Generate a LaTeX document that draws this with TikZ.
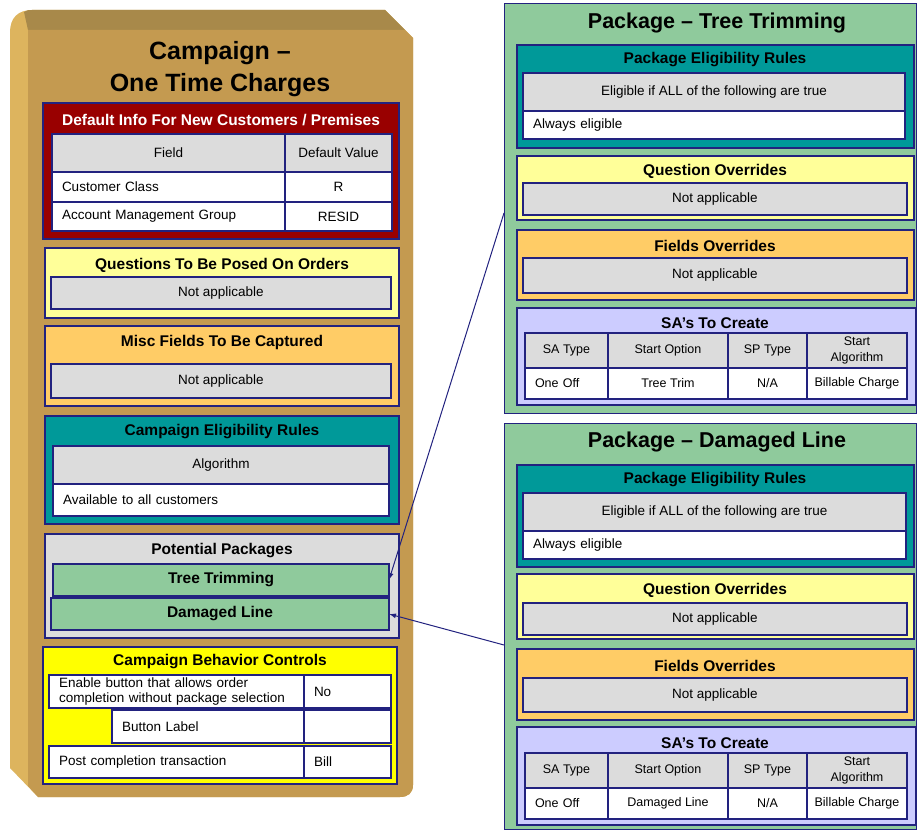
\documentclass[tikz,border=0pt]{standalone}
\usepackage{fontspec}
\setmainfont{Liberation Sans}
\usetikzlibrary{arrows.meta,positioning}
\definecolor{navy}{HTML}{22227F}
\definecolor{tanface}{HTML}{C49A50}
\definecolor{tanside}{HTML}{DDB45E}
\definecolor{tantop}{HTML}{A8894A}
\definecolor{darkred}{HTML}{990000}
\definecolor{paleyellow}{HTML}{FFFF99}
\definecolor{paleorange}{HTML}{FFCC66}
\definecolor{tealbox}{HTML}{009999}
\definecolor{cellgray}{HTML}{DCDCDC}
\definecolor{pkggreen}{HTML}{8FCA9C}
\definecolor{brightyellow}{HTML}{FFFF00}
\definecolor{lavender}{HTML}{CCCCFF}

\begin{document}
\begin{tikzpicture}[x=1pt, y=-1pt, font=\fontsize{13.5}{16}\selectfont,
  panel/.style={draw=navy, line width=1.3pt, inner sep=0pt, outer sep=0pt},
  cell/.style={draw=navy, line width=1.1pt, inner sep=0pt, outer sep=0pt, fill=white, align=center},
  gcell/.style={cell, fill=cellgray},
  lcell/.style={cell, align=left, inner xsep=10pt},
  hd/.style={font=\bfseries\fontsize{15.5}{18}\selectfont},
  ttl/.style={font=\bfseries\fontsize{21.5}{25}\selectfont},
  sat/.style={font=\fontsize{12.5}{16}\selectfont},
  conn/.style={-{Latex[length=7pt, width=5pt]}, navy, line width=1pt}]
\useasboundingbox (0,0) rectangle (919,832);
% campaign block
\fill[tanside] (10,768) -- (10,32) .. controls (10,18) and (18,10) .. (32,10) -- (385,10) -- (413,38) -- (413,785) .. controls (413,793) and (408,797) .. (400,797) -- (38,797) -- cycle;
\fill[tantop] (24,12) .. controls (27,10) and (29,10) .. (32,10) -- (385,10) -- (405,30) -- (28,30) -- cycle;
\fill[tanface] (28,30) -- (405,30) -- (413,38) -- (413,785) .. controls (413,793) and (408,797) .. (400,797) -- (38,797) -- (28,786) -- cycle;
\node[font=\bfseries\fontsize{25}{32}\selectfont, align=center] (camp) at (220,69) {Campaign --\\One Time Charges};

\node[panel, fill=darkred, minimum width=356pt, minimum height=136pt] (defbox) at (221,171) {};
\node[hd, text=white] (defhd) at (221,120) {Default Info For New Customers / Premises};
\node[gcell, minimum width=233pt, minimum height=38pt] (fld) at (168.5,153) {Field};
\node[gcell, minimum width=107pt, minimum height=38pt] (dval) at (338.5,153) {Default Value};
\node[lcell, text width=213pt, minimum height=30pt] (cclass) at (168.5,187) {Customer Class};
\node[cell, minimum width=107pt, minimum height=30pt] (cclassv) at (338.5,187) {R};
\node[lcell, text width=213pt, minimum height=29pt] (amg) at (168.5,216.5) {Account Management Group};
\node[cell, minimum width=107pt, minimum height=29pt] (amgv) at (338.5,216.5) {RESID};

\node[panel, fill=paleyellow, minimum width=354pt, minimum height=70pt] (quest) at (222,283) {};
\node[hd] (questhd) at (222,265) {Questions To Be Posed On Orders};
\node[gcell, minimum width=340pt, minimum height=32pt] (questna) at (221,293) {Not applicable};

\node[panel, fill=paleorange, minimum width=354pt, minimum height=80pt] (misc) at (222,366) {};
\node[hd] (mischd) at (222,342) {Misc Fields To Be Captured};
\node[gcell, minimum width=340pt, minimum height=34pt] (miscna) at (221,381) {Not applicable};

\node[panel, fill=tealbox, minimum width=354pt, minimum height=108pt] (celig) at (222,470) {};
\node[hd] (celighd) at (222,432) {Campaign Eligibility Rules};
\node[gcell, minimum width=336pt, minimum height=38pt] (algo) at (221,465) {Algorithm};
\node[lcell, text width=316pt, minimum height=32pt] (avail) at (221,500) {Available to all customers};

\node[panel, fill=cellgray, minimum width=354pt, minimum height=104pt] (pots) at (222,586) {};
\node[hd] (potshd) at (222,551) {Potential Packages};
\node[cell, hd, fill=pkggreen, minimum width=336pt, minimum height=32pt] (tt) at (221,580) {Tree Trimming};
\node[cell, hd, fill=pkggreen, minimum width=338pt, minimum height=32pt] (dl) at (220,614) {Damaged Line};

\node[panel, fill=brightyellow, minimum width=354pt, minimum height=137pt] (behav) at (220,715.5) {};
\node[hd] (behavhd) at (220,662) {Campaign Behavior Controls};
\node[lcell, text width=235pt, minimum height=33pt, font=\fontsize{13.5}{15}\selectfont] (enable) at (176.5,691.5) {Enable button that allows order\\completion without package selection};
\node[lcell, text width=67pt, minimum height=33pt] (enablev) at (347.5,691.5) {No};
\node[lcell, text width=172pt, minimum height=33pt] (blabel) at (208,726.5) {Button Label};
\node[cell, minimum width=87pt, minimum height=33pt] (blabelv) at (347.5,726.5) {};
\node[lcell, text width=235pt, minimum height=32pt] (post) at (176.5,762) {Post completion transaction};
\node[lcell, text width=67pt, minimum height=32pt] (postv) at (347.5,762) {Bill};

% package: tree trimming
\node[panel, line width=1pt, fill=pkggreen, minimum width=412pt, minimum height=409pt] (ttpkg) at (710,208.5) {};
\node[ttl] (tttl) at (717,23) {Package -- Tree Trimming};
\node[panel, fill=tealbox, minimum width=397pt, minimum height=103pt] (ttelig) at (715.5,96.5) {};
\node[hd] (tteligh) at (715,60) {Package Eligibility Rules};
\node[gcell, minimum width=382pt, minimum height=38pt] (ttall) at (714,92) {Eligible if ALL of the following are true};
\node[lcell, text width=362pt, minimum height=28pt] (ttalw) at (714,125) {Always eligible};
\node[panel, fill=paleyellow, minimum width=397pt, minimum height=64pt] (ttq) at (715.5,188) {};
\node[hd] (ttqh) at (715,171) {Question Overrides};
\node[gcell, minimum width=384pt, minimum height=32pt] (ttqna) at (715,199) {Not applicable};
\node[panel, fill=paleorange, minimum width=397pt, minimum height=70pt] (ttf) at (715.5,265) {};
\node[hd] (ttfh) at (715,246) {Fields Overrides};
\node[gcell, minimum width=384pt, minimum height=35pt] (ttfna) at (715,275.5) {Not applicable};
\node[panel, fill=lavender, minimum width=399pt, minimum height=97pt] (ttsa) at (716.5,356.5) {};
\node[hd] (ttsah) at (715,323) {SA's To Create};
\node[gcell, sat, minimum width=83pt, minimum height=35pt] (ttc1) at (566.5,350.5) {SA Type};
\node[gcell, sat, minimum width=120pt, minimum height=35pt] (ttc2) at (668,350.5) {Start Option};
\node[gcell, sat, minimum width=79pt, minimum height=35pt] (ttc3) at (767.5,350.5) {SP Type};
\node[gcell, sat, minimum width=100pt, minimum height=35pt] (ttc4) at (857,350.5) {Start\\Algorithm};
\node[lcell, sat, text width=63pt, minimum height=31pt] (ttd1) at (566.5,383.5) {One Off};
\node[cell, sat, minimum width=120pt, minimum height=31pt] (ttd2) at (668,383.5) {Tree Trim};
\node[cell, sat, minimum width=79pt, minimum height=31pt] (ttd3) at (767.5,383.5) {N/A};
\node[cell, sat, minimum width=100pt, minimum height=31pt] (ttd4) at (857,383.5) {Billable Charge};

% package: damaged line
\node[panel, line width=1pt, fill=pkggreen, minimum width=412pt, minimum height=406pt] (dlpkg) at (710,626) {};
\node[ttl] (dltl) at (717,442) {Package -- Damaged Line};
\node[panel, fill=tealbox, minimum width=397pt, minimum height=102pt] (dlelig) at (715.5,516) {};
\node[hd] (dleligh) at (715,480) {Package Eligibility Rules};
\node[gcell, minimum width=383pt, minimum height=38pt] (dlall) at (714.5,512) {Eligible if ALL of the following are true};
\node[lcell, text width=363pt, minimum height=28pt] (dlalw) at (714.5,545) {Always eligible};
\node[panel, fill=paleyellow, minimum width=397pt, minimum height=65pt] (dlq) at (715.5,606.5) {};
\node[hd] (dlqh) at (715,590) {Question Overrides};
\node[gcell, minimum width=384pt, minimum height=32pt] (dlqna) at (715,619) {Not applicable};
\node[panel, fill=paleorange, minimum width=397pt, minimum height=71pt] (dlf) at (715.5,684.5) {};
\node[hd] (dlfh) at (715,666) {Fields Overrides};
\node[gcell, minimum width=384pt, minimum height=34pt] (dlfna) at (715,695) {Not applicable};
\node[panel, fill=lavender, minimum width=399pt, minimum height=98pt] (dlsa) at (716.5,776) {};
\node[hd] (dlsah) at (715,743) {SA's To Create};
\node[gcell, sat, minimum width=83pt, minimum height=35pt] (dlc1) at (566.5,770.5) {SA Type};
\node[gcell, sat, minimum width=120pt, minimum height=35pt] (dlc2) at (668,770.5) {Start Option};
\node[gcell, sat, minimum width=79pt, minimum height=35pt] (dlc3) at (767.5,770.5) {SP Type};
\node[gcell, sat, minimum width=100pt, minimum height=35pt] (dlc4) at (857,770.5) {Start\\Algorithm};
\node[lcell, sat, text width=63pt, minimum height=31pt] (dld1) at (566.5,803.5) {One Off};
\node[cell, sat, minimum width=120pt, minimum height=31pt] (dld2) at (668,803.5) {Damaged Line};
\node[cell, sat, minimum width=79pt, minimum height=31pt] (dld3) at (767.5,803.5) {N/A};
\node[cell, sat, minimum width=100pt, minimum height=31pt] (dld4) at (857,803.5) {Billable Charge};

\draw[conn] ([yshift=-4.5pt]ttpkg.west) -- (tt.east);
\draw[conn] ([yshift=-19pt]dlpkg.west) -- (dl.east);
\end{tikzpicture}
\end{document}
